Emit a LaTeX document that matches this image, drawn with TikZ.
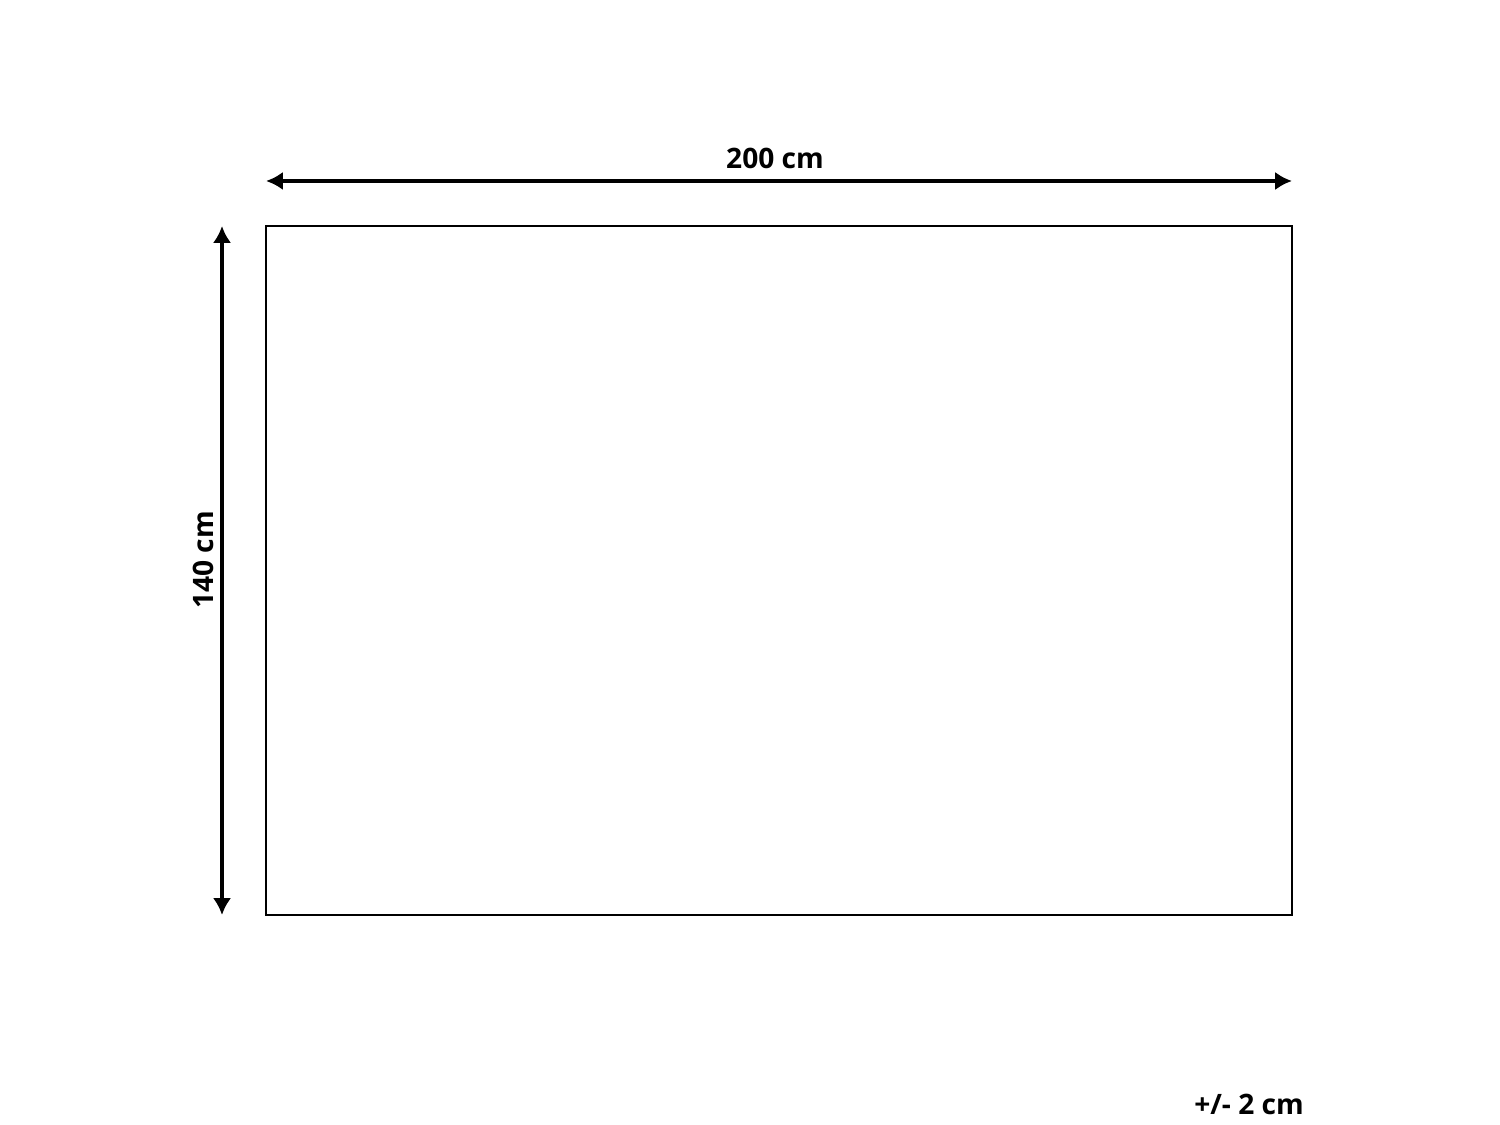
\documentclass[tikz,border=0pt]{standalone}
\usepackage{fontspec}
\setmainfont{Open Sans}
\usetikzlibrary{arrows.meta, positioning}

\tikzset{
  dimline/.style={line width=1.15pt, {Latex[length=4.8pt,width=5.2pt]}-{Latex[length=4.8pt,width=5.2pt]}},
  dimlabel/.style={font=\fontsize{8}{10}\selectfont\bfseries, inner sep=0pt}
}

\begin{document}
\begin{tikzpicture}[x=0.01cm, y=-0.01cm]
\useasboundingbox (0,0) rectangle (1500,1125);
% rug outline
\draw [line width=0.45pt] (266,226) rectangle (1292,915);
% width
\coordinate (wl) at (266,181);
\coordinate (wr) at (1292,181);
\draw [dimline] (wl) -- (wr);
\node [dimlabel] (width) at (775,158) {200 cm};
% height
\coordinate (ht) at (222,226);
\coordinate (hb) at (222,915);
\draw [dimline] (ht) -- (hb);
\node [dimlabel, rotate=90] (height) at (203,560) {140 cm};
% tolerance
\node [dimlabel] (tol) at (1249,1104) {+/- 2 cm};
\end{tikzpicture}
\end{document}
